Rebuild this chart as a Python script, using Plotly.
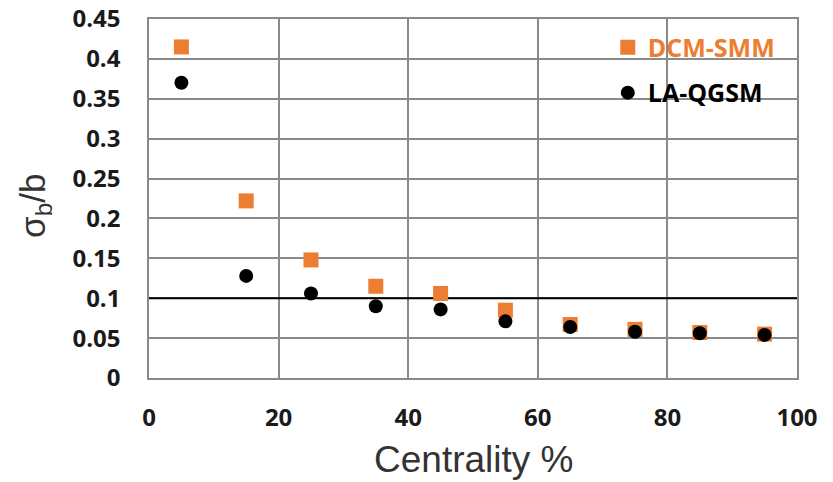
import plotly.graph_objects as go

# Centrality bins (bin centres, %)
centrality = [5, 15, 25, 35, 45, 55, 65, 75, 85, 95]

# Relative impact-parameter resolution sigma_b / b
dcm_smm = [0.415, 0.222, 0.148, 0.115, 0.106, 0.085, 0.067, 0.061, 0.057, 0.055]
la_qgsm = [0.370, 0.128, 0.106, 0.090, 0.086, 0.071, 0.064, 0.058, 0.056, 0.054]

# Reference level
ref_x = [0, 100]
ref_y = [0.1, 0.1]

x_ticks = [0, 20, 40, 60, 80, 100]
x_labels = ["0", "20", "40", "60", "80", "100"]
y_ticks = [0, 0.05, 0.1, 0.15, 0.2, 0.25, 0.3, 0.35, 0.4, 0.45]
y_labels = ["0", "0.05", "0.1", "0.15", "0.2", "0.25", "0.3", "0.35", "0.4", "0.45"]

ORANGE = "#ED7D31"
GRID = "#8a8a8a"
TICK_FONT = dict(family="Open Sans", size=24, color="#1a1a1a", weight="bold")

fig = go.Figure()

fig.add_trace(go.Scatter(
    x=ref_x, y=ref_y, mode="lines",
    line=dict(color="#000000", width=2),
    showlegend=False, hoverinfo="skip",
))

fig.add_trace(go.Scatter(
    x=centrality, y=dcm_smm, mode="markers",
    name="<span style='color:%s'>DCM-SMM</span>" % ORANGE,
    marker=dict(symbol="square", size=15, color=ORANGE),
    legendgroup="a",
))

fig.add_trace(go.Scatter(
    x=centrality, y=la_qgsm, mode="markers",
    name="LA-QGSM",
    marker=dict(symbol="circle", size=14, color="#000000"),
    legendgroup="b",
))

fig.update_layout(
    width=833, height=482,
    margin=dict(l=149, r=36, t=19, b=104),
    paper_bgcolor="white", plot_bgcolor="white",
    legend=dict(
        x=0.708, y=0.985, xanchor="left", yanchor="top",
        bgcolor="rgba(0,0,0,0)",
        font=dict(family="Open Sans", size=25, color="#000000", weight="bold"),
        tracegroupgap=10, traceorder="grouped",
        itemsizing="trace",
    ),
    annotations=[
        dict(text="Centrality %", xref="paper", yref="paper",
             x=0.5, y=-0.228, xanchor="center", yanchor="middle",
             showarrow=False,
             font=dict(family="Liberation Sans", size=37, color="#333333")),
        dict(text="σ<sub>b</sub>/b", xref="paper", yref="paper",
             x=-0.177, y=0.48, xanchor="center", yanchor="middle",
             textangle=-90, showarrow=False,
             font=dict(family="Liberation Sans", size=35, color="#333333")),
    ],
)

fig.update_xaxes(
    range=[0, 100], tickvals=x_ticks, ticktext=x_labels,
    showgrid=True, gridcolor=GRID, gridwidth=1.5,
    showline=True, linecolor=GRID, linewidth=1.5, mirror=True,
    zeroline=False, ticks="", ticklabelstandoff=17,
    tickfont=TICK_FONT, automargin=False,
)
fig.update_yaxes(
    range=[0, 0.45], tickvals=y_ticks, ticktext=y_labels,
    showgrid=True, gridcolor=GRID, gridwidth=1.5,
    showline=True, linecolor=GRID, linewidth=1.5, mirror=True,
    zeroline=False, ticks="", ticklabelstandoff=22,
    tickfont=TICK_FONT, automargin=False,
)

fig.write_html("out.html")
